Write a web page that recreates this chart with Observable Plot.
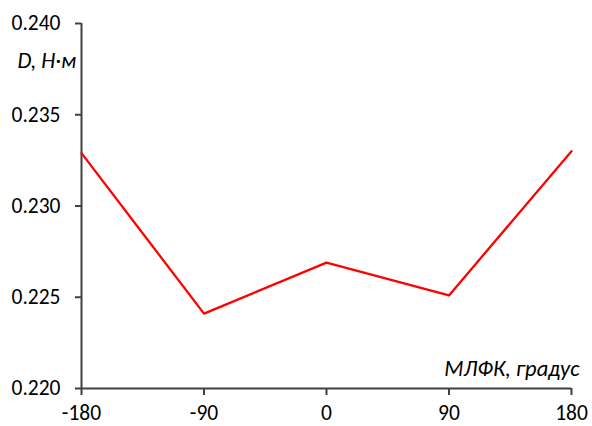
<!DOCTYPE html>
<html><head><meta charset="utf-8">
<script src="https://cdn.jsdelivr.net/npm/d3@7"></script>
<script src="https://cdn.jsdelivr.net/npm/@observablehq/plot@0.6"></script>
<style>
body{margin:0;background:#fff;}
</style>
</head><body>
<div id="chart"></div>
<script>
const angles = [-180, -90, 0, 90, 180];
const torque = [0.2329, 0.2241, 0.2269, 0.2251, 0.2330];
const xTicks = [-180, -90, 0, 90, 180];
const yTicks = [0.220, 0.225, 0.230, 0.235, 0.240];
const yTitle = "D, Н·м";
const xTitle = "МЛФК, градус";

const data = angles.map((a, i) => ({a, v: torque[i]}));
const axisColor = "#404040";
const font = "Carlito, 'Open Sans', sans-serif";

const chart = Plot.plot({
  width: 592,
  height: 426,
  marginLeft: 81,
  marginRight: 21,
  marginTop: 23,
  marginBottom: 38,
  style: {fontFamily: font, fontSize: "21.5px", color: "#000", background: "#fff"},
  x: {domain: [-180, 180]},
  y: {domain: [0.220, 0.240]},
  marks: [
    Plot.axisY({ticks: yTicks, tickFormat: d3.format(".3f"), tickSize: 6, tickPadding: 15, stroke: axisColor, strokeWidth: 2, strokeOpacity: 1, label: null, fontSize: 21.5, fill: "#000"}),
    Plot.axisX({ticks: xTicks, tickFormat: d => String(d).replace("−","-"), tickSize: 7, tickPadding: 9.5, stroke: axisColor, strokeWidth: 2, strokeOpacity: 1, label: null, fontSize: 21.5, fill: "#000"}),
    Plot.ruleX([-180], {stroke: axisColor, strokeWidth: 2}),
    Plot.ruleY([0.220], {stroke: axisColor, strokeWidth: 2}),
    Plot.line(data, {x: "a", y: "v", stroke: "#ff0000", strokeWidth: 2.3}),
    Plot.text([yTitle], {frameAnchor: "top-left", dx: -64, dy: 29, fontStyle: "italic", fontSize: 22.5, textAnchor: "start", fill: "#000"}),
    Plot.text([xTitle], {frameAnchor: "bottom-right", dx: 8, dy: -13, fontStyle: "italic", fontSize: 22.5, textAnchor: "end", fill: "#000"})
  ]
});
document.getElementById("chart").appendChild(chart);
</script>
</body></html>
